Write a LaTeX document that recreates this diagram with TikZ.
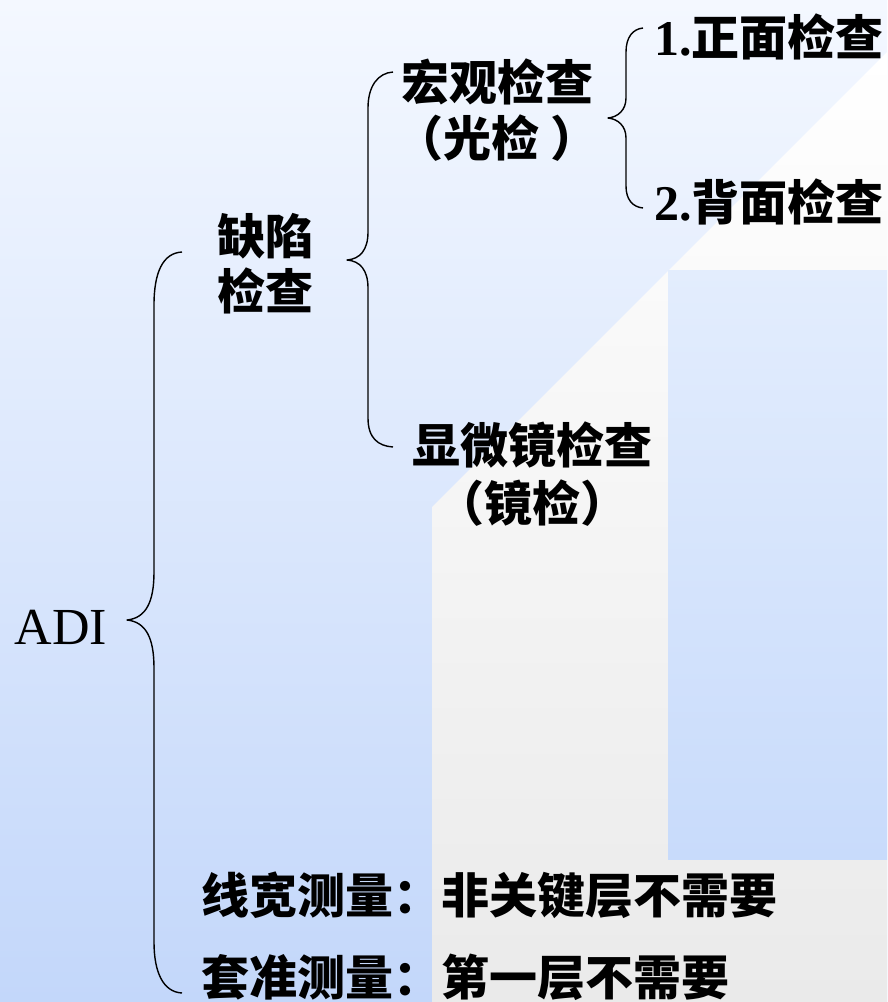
\documentclass[tikz,border=0pt]{standalone}
\usepackage{fontspec}
\setmainfont{Liberation Serif}
\newfontfamily\cjk{Noto Sans CJK SC}
\definecolor{bgtop}{HTML}{F4F8FF}
\definecolor{bgbot}{HTML}{C3D7FA}
\definecolor{wtop}{HTML}{FFFFFF}
\definecolor{wbot}{HTML}{EAEAEA}
\definecolor{rtop}{HTML}{E3EDFD}
\definecolor{rbot}{HTML}{C8DBFB}
\begin{document}
\begin{tikzpicture}[x=1pt,y=-1pt,
  brace/.style={line width=1.4pt, line join=round, draw=black},
  lbl/.style={inner sep=0pt, align=center, text=black,
    font=\cjk\bfseries\fontsize{48}{56}\selectfont},
  lblwide/.style={lbl, font=\cjk\bfseries\fontsize{48}{58}\selectfont}]
\useasboundingbox (0,0) rectangle (887,1002);
% background
\shade[top color=bgtop, bottom color=bgbot] (0,0) rectangle (887,1002);
\shade[top color=wtop, bottom color=wbot] (432,1002) -- (432,507) -- (887,52) -- (887,1002) -- cycle;
\shade[top color=rtop, bottom color=rbot] (668,270) rectangle (887,859);

% nodes
\node[inner sep=0pt, font=\fontsize{52}{60}\selectfont] (adi) at (61,627) {ADI};
\node[lbl, font=\cjk\bfseries\fontsize{48}{55}\selectfont] (qx) at (265,264) {缺陷\\检查};
\node[lbl] (hg) at (497,110) {宏观检查\\（光检 ）};
\node[lblwide] (xw) at (532,474) {显微镜检查\\（镜检）};
\node[lbl, anchor=west] (zm) at (654,37) {{\rmfamily\bfseries\fontsize{50}{56}\selectfont 1.}正面检查};
\node[lbl, anchor=west] (bm) at (654,202) {{\rmfamily\bfseries\fontsize{50}{56}\selectfont 2.}背面检查};
\node[lbl, anchor=west] (xk) at (201,895) {线宽测量：非关键层不需要};
\node[lbl, anchor=west] (tz) at (201,977) {套准测量：第一层不需要};

% brace end points
\coordinate (a1) at (182,252);
\coordinate (a2) at (127,620);
\coordinate (a3) at (182,993);
\coordinate (b1) at (393,72);
\coordinate (b2) at (347,260);
\coordinate (b3) at (393,447);
\coordinate (c1) at (643,28);
\coordinate (c2) at (608,118);
\coordinate (c3) at (643,208);

% ADI brace
\draw[brace] (a1) .. controls (163,253) and (154,272) .. (154,305) -- (154,572)
  .. controls (154,602) and (146,618) .. (a2)
  .. controls (146,622) and (154,638) .. (154,668) -- (154,942)
  .. controls (154,972) and (163,992) .. (a3);
% defect brace
\draw[brace] (b1) .. controls (378,73) and (368,86) .. (368,108) -- (368,232)
  .. controls (368,250) and (360,259) .. (b2)
  .. controls (360,261) and (368,270) .. (368,288) -- (368,418)
  .. controls (368,438) and (378,446) .. (b3);
% macro brace
\draw[brace] (c1) .. controls (633,29) and (626,37) .. (626,52) -- (626,98)
  .. controls (626,110) and (618,117) .. (c2)
  .. controls (618,119) and (626,126) .. (626,138) -- (626,186)
  .. controls (626,200) and (633,207) .. (c3);
\end{tikzpicture}
\end{document}
